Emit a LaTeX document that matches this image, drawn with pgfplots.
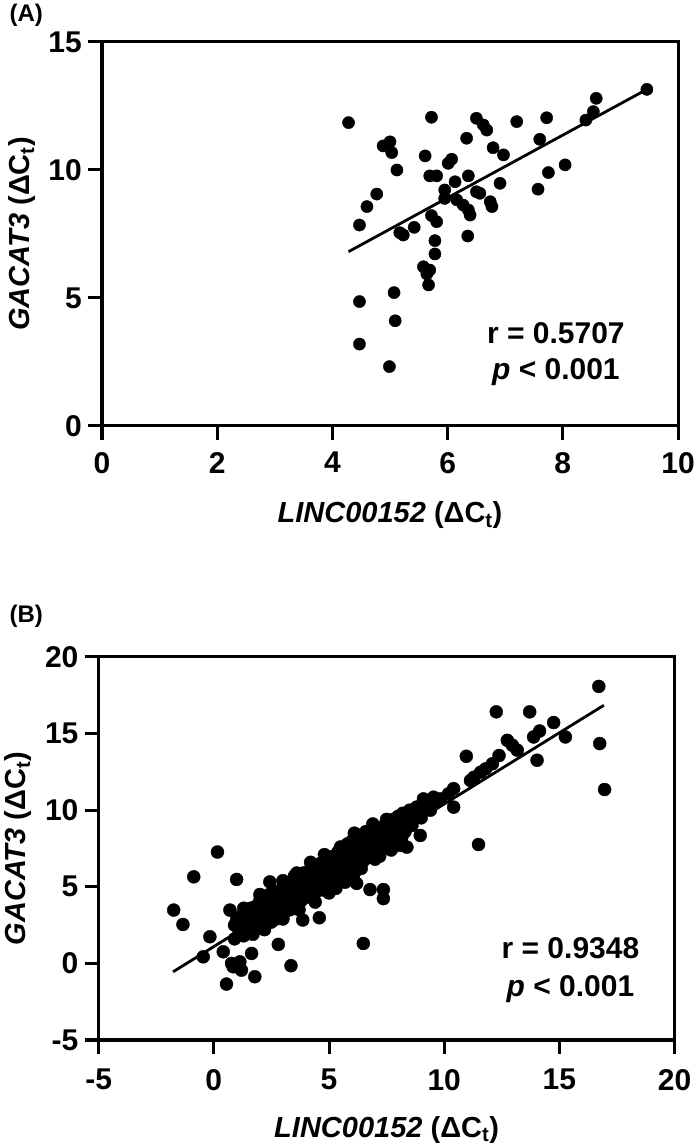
\documentclass[border=0pt]{standalone}
\usepackage{fontspec}
\setmainfont{Liberation Sans}
\usepackage{pgfplots}
\pgfplotsset{compat=1.18}
\pgfplotstableread{
x y
4.28 11.85
5.72 12.06
6.50 12.02
6.62 11.76
6.68 11.56
6.33 11.24
4.88 10.94
5.00 11.10
5.03 10.68
5.12 10.00
5.61 10.55
6.01 10.26
6.07 10.42
5.69 9.77
5.81 9.77
6.13 9.54
6.36 9.77
6.79 10.87
6.97 10.59
5.95 9.22
5.95 8.89
6.16 8.83
6.27 8.63
6.36 8.44
6.39 8.24
6.50 9.15
6.56 9.09
6.74 8.76
6.77 8.57
4.77 9.06
4.60 8.57
4.47 7.85
5.17 7.55
5.23 7.46
5.42 7.76
5.72 8.22
5.81 7.98
5.78 7.24
5.78 6.72
5.58 6.22
5.69 6.09
5.64 5.94
5.67 5.51
6.35 7.42
5.07 5.21
4.47 4.86
5.09 4.11
4.47 3.20
4.99 2.32
9.46 13.15
8.58 12.80
8.53 12.28
8.40 11.95
7.20 11.89
7.72 12.04
7.60 11.20
6.91 9.48
7.75 9.90
8.04 10.20
7.57 9.25
}\dataA
\pgfplotstableread{
x y
0.16 7.27
-0.87 5.65
0.99 5.48
2.43 5.32
-1.74 3.48
-1.34 2.54
0.70 3.48
-0.17 1.74
-0.46 0.43
0.41 0.76
0.77 0.00
1.13 0.10
1.20 -0.44
0.84 -0.22
1.64 0.65
1.78 -0.87
0.55 -1.35
2.80 1.24
3.35 -0.15
3.86 2.83
4.58 2.98
6.49 1.30
6.78 4.82
7.36 4.82
7.36 4.23
6.20 5.22
5.77 5.43
16.71 18.08
12.26 16.42
13.71 16.42
14.75 15.72
16.75 14.35
16.96 11.35
11.49 7.76
10.96 13.52
14.03 13.26
15.26 14.78
13.88 14.78
14.14 15.17
12.74 14.56
12.96 14.24
13.17 13.92
12.38 13.57
12.09 13.03
11.80 12.70
11.58 12.48
11.29 12.15
11.14 11.94
10.41 11.41
10.19 11.07
10.41 10.20
9.83 10.74
9.54 10.85
9.10 10.74
9.17 10.20
8.96 9.77
8.67 9.55
8.38 9.35
8.23 8.89
8.16 8.24
8.38 7.59
8.96 8.35
0.9 1.6
0.9 2.5
1.0 2.9
1.1 2.0
1.2 3.1
1.2 2.3
1.3 1.8
1.3 3.6
1.4 2.6
1.4 3.4
1.5 2.2
1.5 3.0
1.6 3.6
1.6 2.5
1.7 1.9
1.7 3.2
1.8 2.8
1.8 3.7
1.9 2.3
1.9 3.3
2.0 3.0
2.0 4.1
2.0 2.4
2.0 4.5
2.1 3.6
2.1 2.8
2.2 3.3
2.2 4.4
2.2 2.2
2.3 2.6
2.3 3.9
2.4 3.1
2.4 4.0
2.5 3.5
2.5 2.7
2.5 4.6
2.6 3.8
2.6 3.2
2.7 4.2
2.7 2.9
2.8 3.6
2.8 4.7
2.9 3.3
2.9 4.4
3.0 3.9
3.0 5.0
3.0 3.1
3.0 5.4
3.0 2.9
3.1 4.3
3.1 3.6
3.2 4.8
3.2 3.9
3.3 4.2
3.3 5.3
3.3 3.5
3.4 4.6
3.4 3.9
3.5 5.0
3.5 4.3
3.5 5.7
3.6 4.0
3.6 4.8
3.6 5.9
3.7 5.2
3.7 4.4
3.7 3.5
3.8 5.6
3.8 4.1
3.9 4.8
3.9 5.9
4.0 4.5
4.0 5.3
4.1 6.0
4.1 4.9
4.2 5.4
4.2 4.3
4.2 6.6
4.3 5.9
4.3 5.0
4.4 6.3
4.4 4.6
4.4 4.0
4.5 5.4
4.5 6.0
4.6 5.0
4.6 6.5
4.7 5.7
4.7 4.8
4.8 6.2
4.8 5.3
4.8 7.1
4.9 6.8
4.9 5.0
5.0 5.8
5.0 6.5
5.0 4.6
5.1 5.3
5.1 6.1
5.2 7.0
5.2 5.7
5.3 6.4
5.3 4.9
5.4 6.0
5.4 7.3
5.5 5.5
5.5 6.7
5.5 7.6
5.6 6.2
5.6 7.5
5.7 5.8
5.7 6.9
5.7 5.3
5.8 6.4
5.8 7.8
5.9 6.0
5.9 7.2
6.0 6.6
6.0 8.0
6.1 5.9
6.1 7.4
6.1 8.5
6.2 6.9
6.2 8.2
6.3 6.4
6.3 7.6
6.4 7.1
6.4 8.4
6.4 6.2
6.5 6.7
6.5 7.8
6.6 7.3
6.6 8.6
6.7 6.9
6.7 8.0
6.8 7.5
6.8 8.7
6.9 7.1
6.9 8.2
6.9 9.1
7.0 7.8
7.0 8.9
7.0 6.8
7.1 7.4
7.2 8.5
7.2 7.0
7.3 8.1
7.4 9.0
7.4 7.6
7.5 8.4
7.5 9.4
7.6 9.2
7.6 7.9
7.7 8.7
7.7 7.4
7.8 9.4
7.8 8.1
7.9 8.9
8.0 9.6
8.0 8.3
8.1 9.1
8.1 7.7
8.2 9.8
8.3 8.6
8.4 9.4
8.5 10.0
8.6 9.0
8.7 9.7
8.8 10.2
9.0 9.5
9.2 10.4
9.4 10.0
9.6 10.6
}\dataB
\pgfplotsset{
  panel/.style={
    scale only axis, width=576bp,
    axis line style={line width=3bp},
    tick style={line width=3bp, black},
    major tick length=14bp,
    tick align=outside,
    xtick pos=left, ytick pos=left,
    ticklabel style={font=\fontsize{30bp}{30bp}\selectfont\bfseries, inner sep=0pt},
    /pgf/number format/assume math mode=true,
    label style={font=\fontsize{29bp}{30bp}\selectfont\bfseries, inner sep=0pt},
    clip=false,
  },
  dots/.style={only marks, mark=*, mark options={draw=black, fill=black}},
}
\newcommand{\rfont}{\fontsize{30bp}{30bp}\selectfont\bfseries}
\begin{document}
\begin{tikzpicture}
\path[use as bounding box] (0bp,0bp) rectangle (696bp,1147bp);
\node[anchor=base west, font=\fontsize{24bp}{24bp}\selectfont\bfseries] at (6bp,1125bp) {(A)};
\node[anchor=base west, font=\fontsize{24bp}{24bp}\selectfont\bfseries] at (6bp,524bp) {(B)};
\begin{axis}[panel, at={(102bp,721bp)}, anchor=south west, height=384bp,
  xmin=0, xmax=10, ymin=0, ymax=15,
  xtick={0,2,...,10}, ytick={0,5,10,15},
  xticklabel shift=12bp, yticklabel shift=6bp,
  xlabel={\textit{LINC00152} (ΔC\textsubscript{t})},
  ylabel={\textit{GACAT3} (ΔC\textsubscript{t})},
  xlabel style={at={(axis description cs:0.5,-0.2526)}, anchor=base},
  ylabel style={at={(axis description cs:-0.139,0.5)}, anchor=center},
]
\addplot[dots, mark size=6.1bp] table[x=x, y=y] {\dataA};
\addplot[black, line width=2.8bp] coordinates {(4.28,6.81) (9.46,13.15)};
\node[anchor=base, font=\rfont] at (axis cs:7.88,3.24) {r = 0.5707};
\node[anchor=base, font=\rfont] at (axis cs:7.88,1.80) {\textit{p} < 0.001};
\end{axis}
\begin{axis}[panel, at={(98.6bp,107bp)}, anchor=south west, height=383bp,
  xmin=-5, xmax=20, ymin=-5, ymax=20,
  xtick={-5,0,...,20}, ytick={-5,0,...,20},
  xticklabel shift=15bp, yticklabel shift=6bp,
  xlabel={\textit{LINC00152} (ΔC\textsubscript{t})},
  ylabel={\textit{GACAT3} (ΔC\textsubscript{t})},
  xlabel style={at={(axis description cs:0.5,-0.2533)}, anchor=base},
  ylabel style={at={(axis description cs:-0.140,0.5)}, anchor=center},
]
\addplot[dots, mark size=6.5bp] table[x=x, y=y] {\dataB};
\addplot[black, line width=2.8bp] coordinates {(-1.77,-0.55) (16.93,16.85)};
\node[anchor=base, font=\rfont] at (axis cs:15.48,0.33) {r = 0.9348};
\node[anchor=base, font=\rfont] at (axis cs:15.48,-2.18) {\textit{p} < 0.001};
\end{axis}
\end{tikzpicture}
\end{document}
